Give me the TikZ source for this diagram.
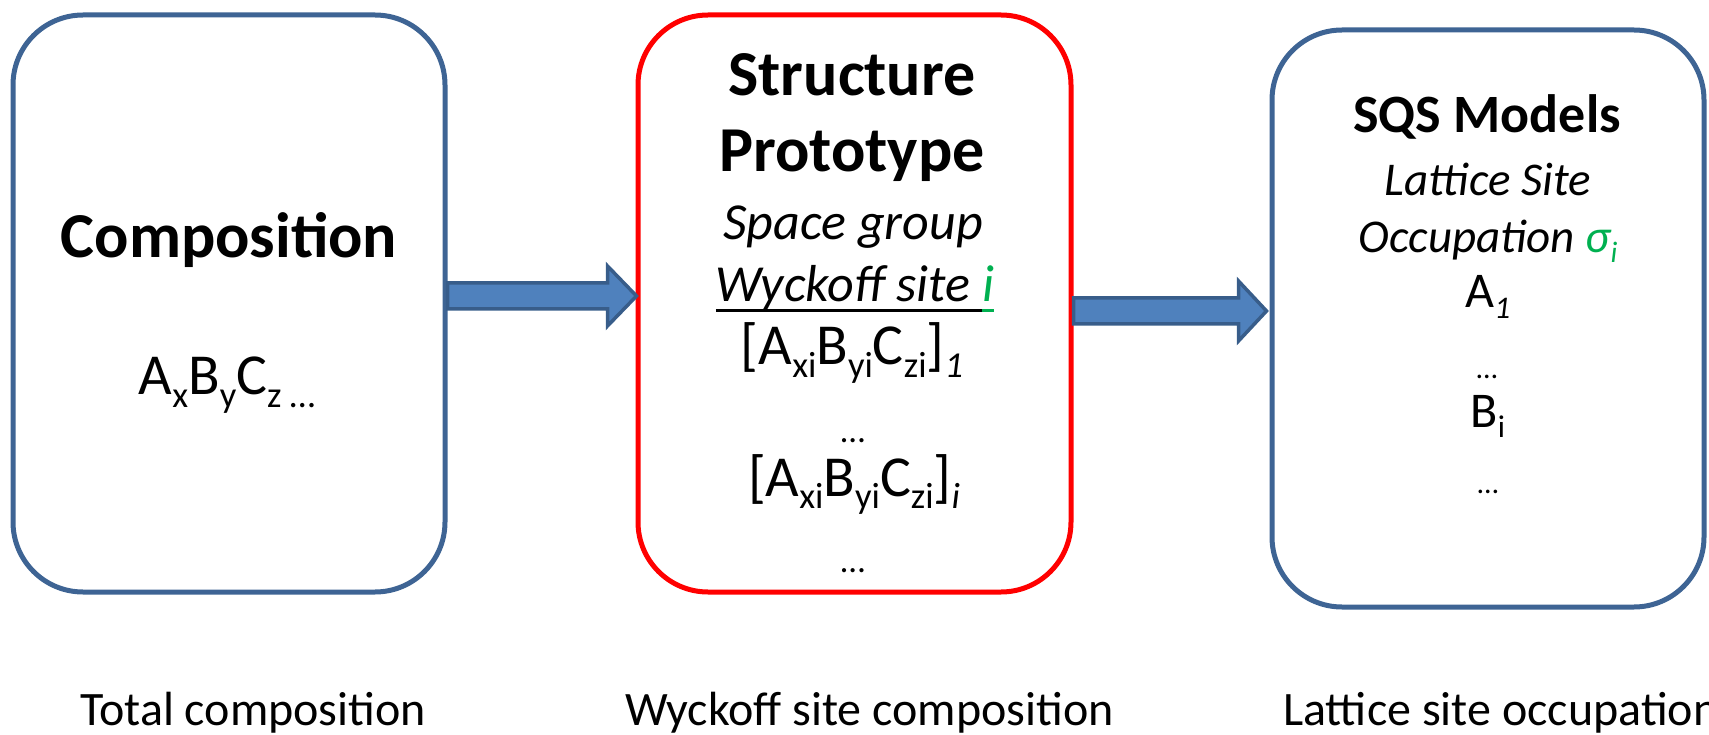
\documentclass[tikz,border=0pt]{standalone}
\usepackage{fontspec}
\usepackage{graphicx}
\setmainfont{Carlito}
\usetikzlibrary{calc}
\definecolor{boxblue}{RGB}{62,100,148}
\definecolor{arrowfill}{RGB}{79,129,189}
\definecolor{arrowline}{RGB}{56,93,138}
\definecolor{sqsgreen}{RGB}{0,176,80}
\newcommand\sbs[1]{\raisebox{-0.21em}{\scalebox{0.63}{#1}}}
\newcommand\smalldots{\scalebox{0.6}{…}}
\newcommand\ulbox[2]{\setbox0\hbox{#2}\rlap{\textcolor{#1}{\rule[-10.5pt]{\wd0}{3.5pt}}}\box0}
\begin{document}
\begin{tikzpicture}[x=1pt,y=-1pt,
  box/.style={line width=5pt, rounded corners=70pt, minimum width=432pt, minimum height=577pt, inner sep=0pt},
  fatarrow/.style={draw=arrowline, fill=arrowfill, line width=3.5pt, line join=miter},
  tb/.style={font=\fontsize{64}{76}\selectfont\bfseries, anchor=base, inner sep=0pt},
  ti/.style={font=\fontsize{52}{62}\selectfont\itshape, anchor=base, inner sep=0pt},
  tr/.style={font=\fontsize{58}{70}\selectfont, anchor=base, inner sep=0pt},
  tbs/.style={font=\fontsize{54}{65}\selectfont\bfseries, anchor=base, inner sep=0pt},
  tis/.style={font=\fontsize{47}{56}\selectfont\itshape, anchor=base, inner sep=0pt},
  trs/.style={font=\fontsize{50}{60}\selectfont, anchor=base, inner sep=0pt},
  lab/.style={font=\fontsize{48}{57}\selectfont, anchor=base west, inner sep=0pt}]
\useasboundingbox (0,0) rectangle (1709,735);
\clip (0,0) rectangle (1709,735);
% boxes
\node[box, draw=boxblue] (b1) at (229,303.5) {};
\node[box, draw=red, minimum width=433pt] (b2) at (854.5,303.5) {};
\node[box, draw=boxblue] (b3) at (1488,318.5) {};
% arrows
\coordinate (a1s) at (b1.east |- 0,296);
\coordinate (a1e) at (b2.west |- 0,296);
\coordinate (a2s) at (b2.east |- 0,311);
\coordinate (a2e) at (b3.west |- 0,311);
\path let \p1=(a1s), \p2=(a1e) in
  [fatarrow] (\x1,\y1+13pt) -- (\x2-28pt,\y1+13pt) -- (\x2-28pt,\y1+30pt) -- (\x2+1pt,\y1)
  -- (\x2-28pt,\y1-30pt) -- (\x2-28pt,\y1-13pt) -- (\x1,\y1-13pt) -- cycle;
\path let \p1=(a2s), \p2=(a2e) in
  [fatarrow] (\x1,\y1+13pt) -- (\x2-31pt,\y1+13pt) -- (\x2-31pt,\y1+30pt) -- (\x2-3pt,\y1)
  -- (\x2-31pt,\y1-30pt) -- (\x2-31pt,\y1-13pt) -- (\x1,\y1-13pt) -- cycle;
% box 1 text
\node[tb] (t1) at (229,258) {Composition};
\node[tr] (f1) at (227,395) {A\sbs{x}B\sbs{y}C\sbs{z …}};
% box 2 text
\node[tb] (t2a) at (852,96) {Structure};
\node[tb] (t2b) at (852,172) {Prototype};
\node[ti] (s2a) at (853,240) {Space group};
\node[ti] (s2b) at (855,302) {\ulbox{black}{Wyckoff site }\ulbox{sqsgreen}{\textcolor{sqsgreen}{i}}};
\node[tr] (f2a) at (852,365) {[A\sbs{xi}B\sbs{yi}C\sbs{zi}]\sbs{\itshape 1}};
\node[tr] (d2a) at (853,442) {\smalldots};
\node[tr] (f2b) at (854,496) {[A\sbs{xi}B\sbs{yi}C\sbs{zi}]\sbs{\itshape i}};
\node[tr] (d2b) at (853,572) {\smalldots};
% box 3 text
\node[tbs] (t3) at (1487,133) {SQS Models};
\node[tis] (s3a) at (1488,196) {Lattice Site};
\node[tis] (s3b) at (1488,253) {Occupation \textcolor{sqsgreen}{σ\sbs{i}}};
\node[trs] (f3a) at (1488,308) {A\sbs{\itshape 1}};
\node[trs] (d3a) at (1487,378) {\smalldots};
\node[trs] (f3b) at (1488,427) {B\sbs{i}};
\node[trs] (d3b) at (1488,493) {\smalldots};
% bottom labels
\node[lab] (l1) at (80,725) {Total composition};
\node[lab] (l2) at (625,725) {Wyckoff site composition};
\node[lab] (l3) at (1283,725) {Lattice site occupation};
\end{tikzpicture}
\end{document}
